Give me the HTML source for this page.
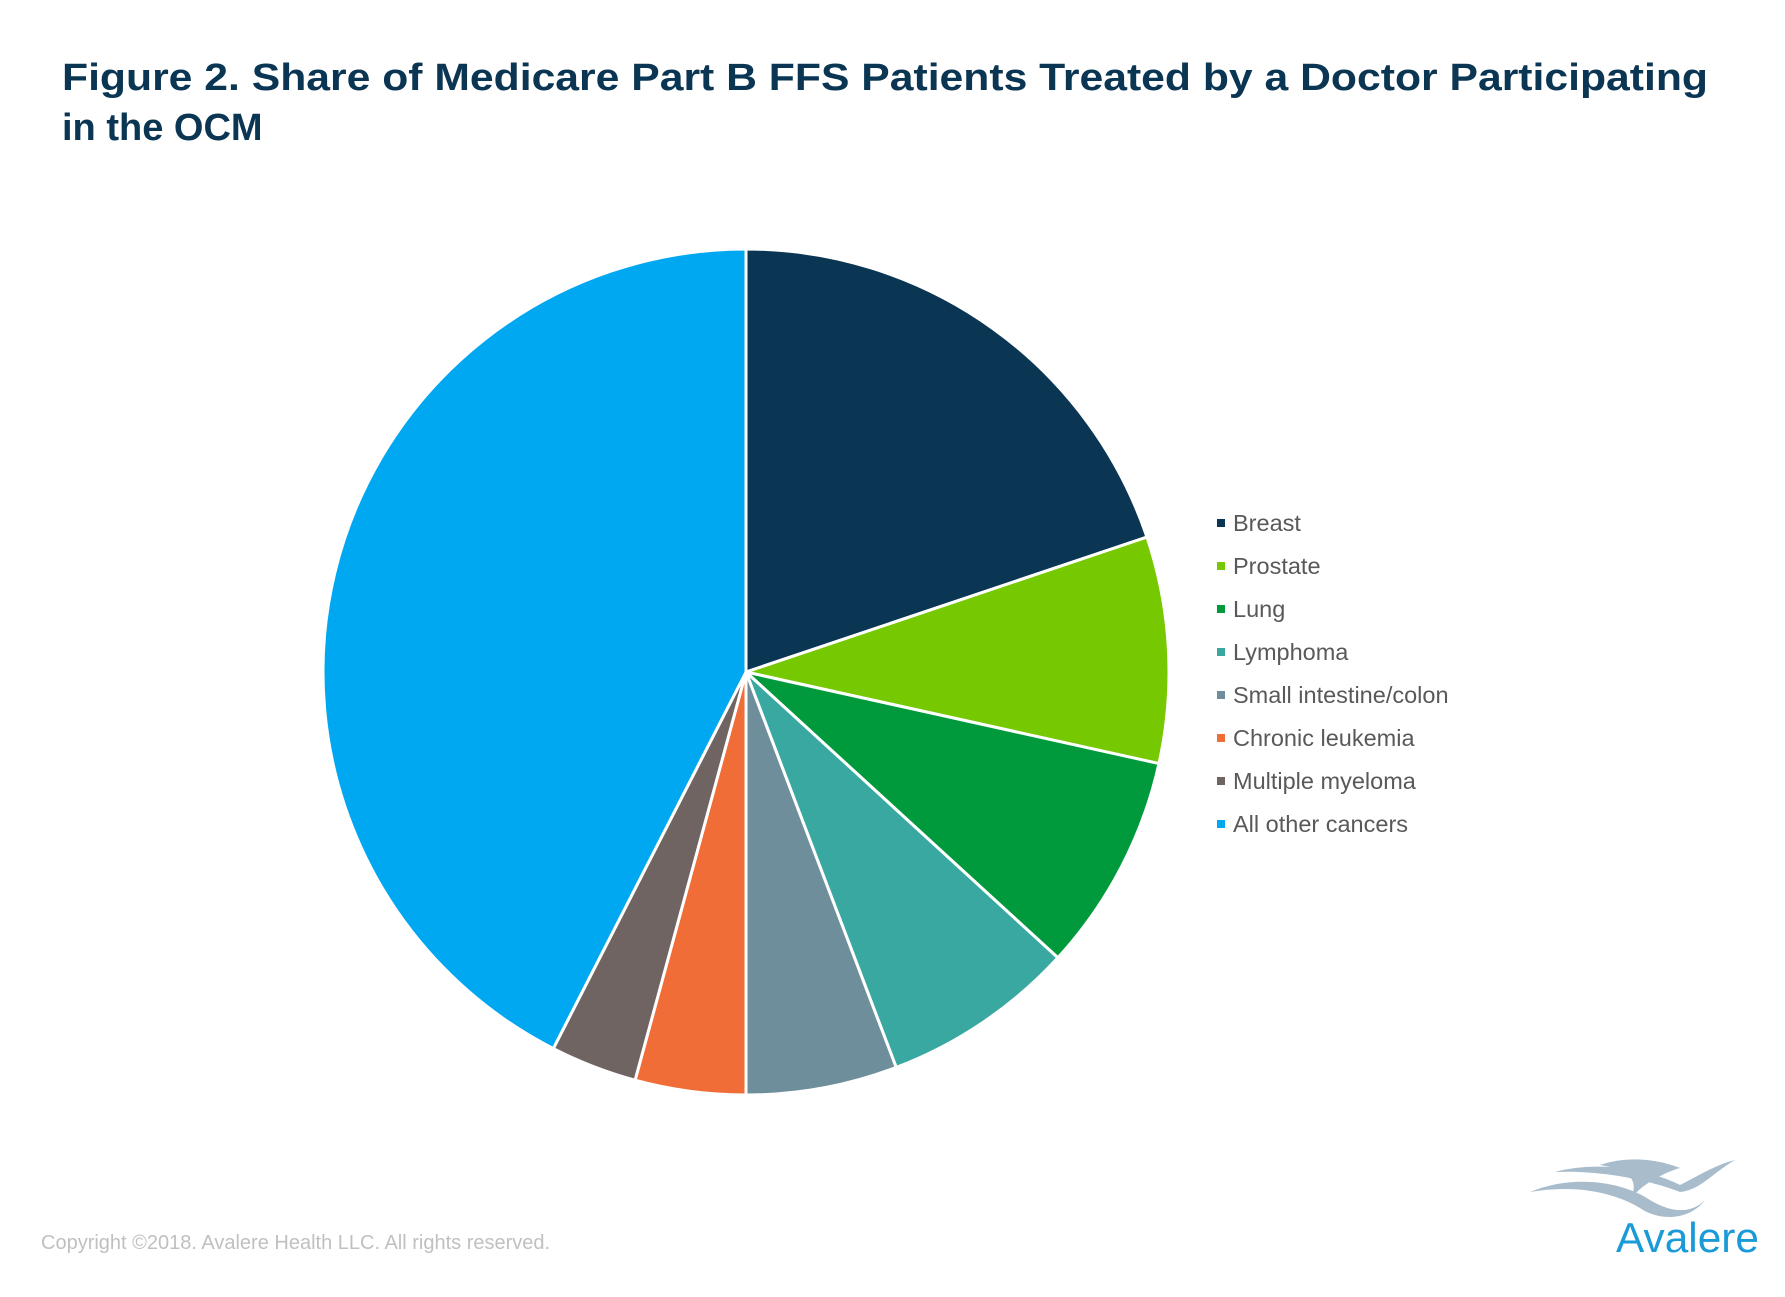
<!DOCTYPE html>
<html><head><meta charset="utf-8"><style>
html,body{margin:0;padding:0;background:#fff}
svg{display:block}
</style></head><body>
<svg width="1785" height="1297" viewBox="0 0 1785 1297" xmlns="http://www.w3.org/2000/svg">
<rect width="1785" height="1297" fill="#fff"/>
<g font-family="Liberation Sans, Arial, sans-serif" font-weight="bold" font-size="38" fill="#0a3553">
<text x="62" y="90" textLength="1646" lengthAdjust="spacingAndGlyphs">Figure 2. Share of Medicare Part B FFS Patients Treated by a Doctor Participating</text>
<text x="62" y="140">in the OCM</text>
</g>
<g id="pie" stroke="#fff" stroke-width="3" stroke-linejoin="round"></g>
<g font-family="Liberation Sans, Arial, sans-serif" font-size="23.5" fill="#595959">
<rect x="1217" y="519" width="8" height="8" fill="#0a3553"/><text x="1233" y="531">Breast</text>
<rect x="1217" y="562" width="8" height="8" fill="#76c800"/><text x="1233" y="574">Prostate</text>
<rect x="1217" y="605" width="8" height="8" fill="#009a3c"/><text x="1233" y="617">Lung</text>
<rect x="1217" y="648" width="8" height="8" fill="#38a8a0"/><text x="1233" y="660">Lymphoma</text>
<rect x="1217" y="691" width="8" height="8" fill="#6e8e9c"/><text x="1233" y="703">Small intestine/colon</text>
<rect x="1217" y="734" width="8" height="8" fill="#f06d37"/><text x="1233" y="746">Chronic leukemia</text>
<rect x="1217" y="777" width="8" height="8" fill="#6f6462"/><text x="1233" y="789">Multiple myeloma</text>
<rect x="1217" y="820" width="8" height="8" fill="#00a7f1"/><text x="1233" y="832">All other cancers</text>
</g>
<text x="41" y="1249" font-family="Liberation Sans, Arial, sans-serif" font-size="20" fill="#c0c0c0">Copyright ©2018. Avalere Health LLC. All rights reserved.</text>
<g fill="#a8bccc">
<path d="M1530 1192 C1570 1175 1620 1180 1650 1200 C1670 1212 1690 1215 1705 1200 C1690 1220 1660 1222 1640 1208 C1610 1190 1570 1185 1530 1192Z"/>
<path d="M1555 1172 C1600 1160 1650 1170 1680 1185 C1700 1175 1715 1165 1735 1160 C1710 1175 1700 1190 1680 1192 C1650 1180 1600 1170 1555 1172Z"/>
<path d="M1600 1165 C1630 1155 1660 1160 1680 1168 C1665 1172 1640 1185 1630 1200 C1640 1180 1630 1170 1600 1165Z"/>
</g>
<text x="1616" y="1252" font-family="Liberation Sans, Arial, sans-serif" font-size="42" fill="#1a9ad6" textLength="143" lengthAdjust="spacingAndGlyphs">Avalere</text>
<script>
(function(){
var cx=746,cy=672,r=423;
var b=[0,71.4,102.5,132.5,159.2,180,195.2,207.1,360];
var c=["#0a3553","#76c800","#009a3c","#38a8a0","#6e8e9c","#f06d37","#6f6462","#00a7f1"];
var g=document.getElementById('pie'),ns="http://www.w3.org/2000/svg";
function pt(a){var t=a*Math.PI/180;return [cx+r*Math.sin(t),cy-r*Math.cos(t)];}
for(var i=0;i<8;i++){
var p0=pt(b[i]),p1=pt(b[i+1]),large=(b[i+1]-b[i])>180?1:0;
var p=document.createElementNS(ns,'path');
p.setAttribute('d','M'+cx+' '+cy+' L'+p0[0].toFixed(2)+' '+p0[1].toFixed(2)+' A'+r+' '+r+' 0 '+large+' 1 '+p1[0].toFixed(2)+' '+p1[1].toFixed(2)+' Z');
p.setAttribute('fill',c[i]);g.appendChild(p);}
})();
</script>
</svg>
</body></html>
